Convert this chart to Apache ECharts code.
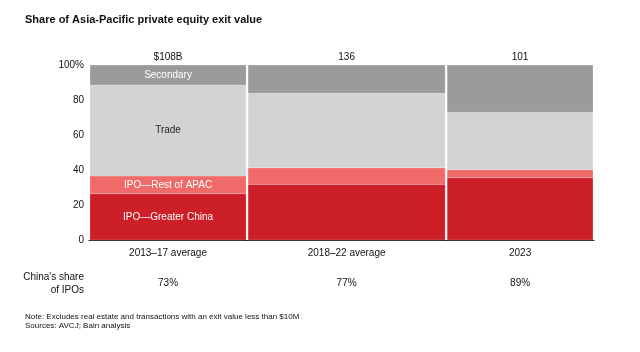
<!DOCTYPE html>
<html>
<head>
<meta charset="utf-8">
<script src="https://cdn.jsdelivr.net/npm/echarts@6/dist/echarts.min.js"></script>
<style>
  html, body { margin: 0; padding: 0; background: #fff; }
  #chart { width: 640px; height: 352px; }
</style>
</head>
<body>
<div id="chart"></div>
<script>
// columns (width = exit value, $B)
const periods = ['2013–17 average', '2018–22 average', '2023']
const exitValue = [108, 136, 101]
const valueLabels = ['$108B', '136', '101']
const chinaShare = ['73%', '77%', '89%']

// shares of exit value, % (bottom to top)
const layerNames = ['IPO—Greater China', 'IPO—Rest of APAC', 'Trade', 'Secondary']
const ipoChina = [26.5, 31.8, 35.6]
const ipoRest = [10.1, 9.5, 4.6]
const trade = [52, 42.5, 32.8]
const secondary = [11.4, 16.2, 27]
const layerColors = ['#cc1f27', '#f06a6a', '#d2d3d5', '#9b9b9b']
const labelColors = ['#fff', '#fff', '#222', '#fff']

const font = 'Arial, "Liberation Sans", sans-serif'
const layers = [ipoChina, ipoRest, trade, secondary]

// cumulative x positions
const xStart = []
let acc = 0
exitValue.forEach(v => { xStart.push(acc); acc += v })
const total = acc

const chart = echarts.init(document.getElementById('chart'))

const series = layers.map((vals, li) => ({
  type: 'custom',
  name: layerNames[li],
  data: vals.map((v, i) => {
    let base = 0
    for (let k = 0; k < li; k++) base += layers[k][i]
    return [xStart[i], xStart[i] + exitValue[i], base, base + v]
  }),
  renderItem(params, api) {
    const p0 = api.coord([api.value(0), api.value(2)])
    const p1 = api.coord([api.value(1), api.value(3)])
    const rect = {
      type: 'rect',
      shape: { x: p0[0] + 1, y: p1[1], width: p1[0] - p0[0] - 2, height: p0[1] - p1[1] },
      style: { fill: layerColors[li], stroke: 'rgba(255,255,255,0.35)', lineWidth: 0.6 }
    }
    if (params.dataIndex === 0) {
      rect.textContent = {
        style: { text: layerNames[li], fill: labelColors[li], font: '10px ' + font }
      }
      rect.textConfig = { position: 'inside' }
    }
    return rect
  }
}))

// column annotations: value on top, period + China's share below
series.push({
  type: 'custom',
  name: 'annotations',
  silent: true,
  data: exitValue.map((v, i) => [xStart[i] + v / 2, i]),
  renderItem(params, api) {
    const i = api.value(1)
    const top = api.coord([api.value(0), 100])
    const bot = api.coord([api.value(0), 0])
    const t = (text, y) => ({
      type: 'text',
      x: top[0], y: y,
      style: { text: text, fill: '#111', font: '10px ' + font, align: 'center', verticalAlign: 'middle' }
    })
    return {
      type: 'group',
      children: [
        t(valueLabels[i], top[1] - 8),
        t(periods[i], bot[1] + 13),
        t(chinaShare[i], bot[1] + 43.5)
      ]
    }
  }
})

chart.setOption({
  animation: false,
  title: {
    text: 'Share of Asia-Pacific private equity exit value',
    left: 20,
    top: 9,
    textStyle: { fontSize: 11, fontWeight: 'bold', color: '#111', fontFamily: font }
  },
  grid: { left: 89, right: 46, top: 65, bottom: 112 },
  xAxis: {
    type: 'value',
    min: 0,
    max: total,
    axisLine: { show: true, lineStyle: { color: '#222', width: 1 } },
    axisTick: { show: false },
    axisLabel: { show: false },
    splitLine: { show: false }
  },
  yAxis: {
    type: 'value',
    min: 0,
    max: 100,
    interval: 20,
    axisLine: { show: false },
    axisTick: { show: false },
    splitLine: { show: false },
    axisLabel: {
      color: '#111',
      fontSize: 10,
      fontFamily: font,
      margin: 5,
      formatter: v => (v === 100 ? '100%' : String(v))
    }
  },
  graphic: [
    {
      type: 'text', x: 84, y: 270,
      style: { text: "China's share\nof IPOs", fill: '#111', font: '10px ' + font, align: 'right', lineHeight: 13.5 }
    },
    {
      type: 'text', left: 25, top: 312,
      style: {
        text: 'Note: Excludes real estate and transactions with an exit value less than $10M\nSources: AVCJ; Bain analysis',
        fill: '#111', font: '8px ' + font, lineHeight: 9.5
      }
    }
  ],
  series: series
})
</script>
</body>
</html>
